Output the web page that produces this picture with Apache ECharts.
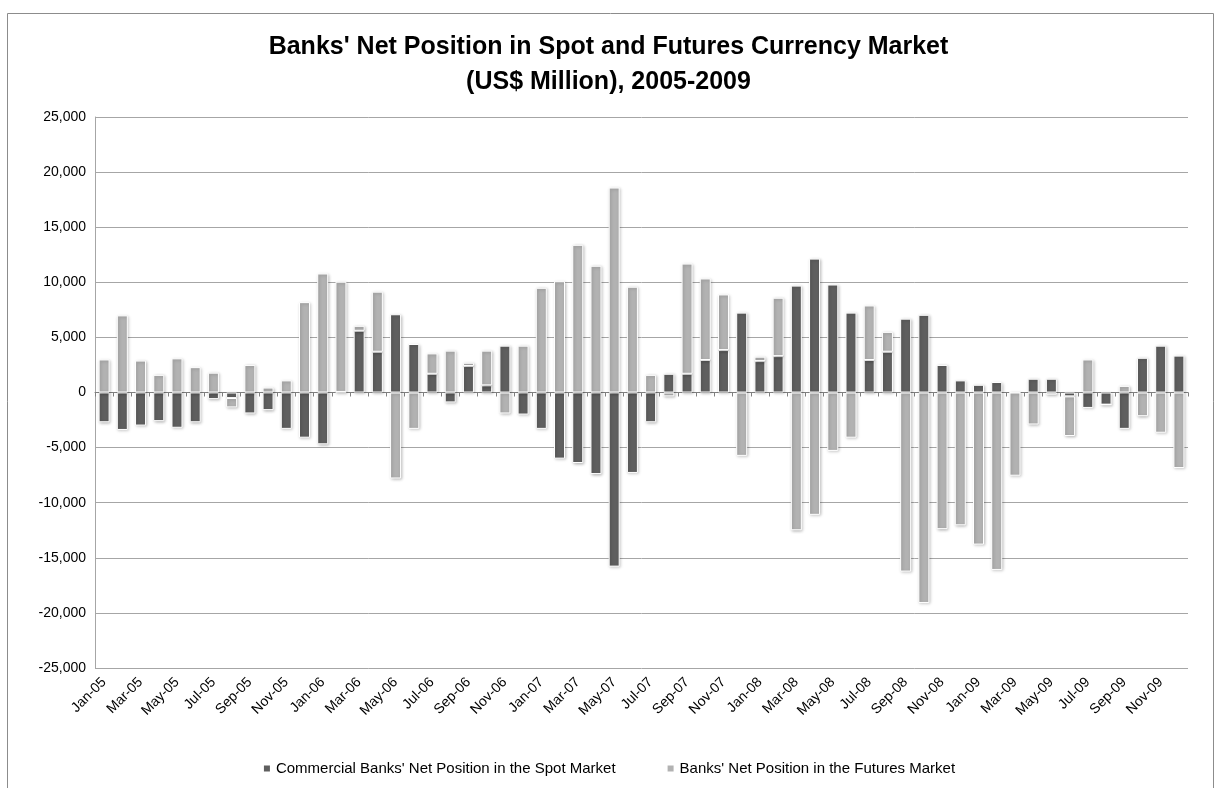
<!DOCTYPE html>
<html>
<head>
<meta charset="utf-8">
<script src="https://cdn.jsdelivr.net/npm/echarts@6/dist/echarts.min.js"></script>
<style>html,body{margin:0;padding:0;background:#fff}#c{width:1217px;height:788px}</style>
</head>
<body>
<div id="c"></div>
<script>
const categories = [
  'Jan-05','Feb-05','Mar-05','Apr-05','May-05','Jun-05','Jul-05','Aug-05','Sep-05','Oct-05','Nov-05','Dec-05',
  'Jan-06','Feb-06','Mar-06','Apr-06','May-06','Jun-06','Jul-06','Aug-06','Sep-06','Oct-06','Nov-06','Dec-06',
  'Jan-07','Feb-07','Mar-07','Apr-07','May-07','Jun-07','Jul-07','Aug-07','Sep-07','Oct-07','Nov-07','Dec-07',
  'Jan-08','Feb-08','Mar-08','Apr-08','May-08','Jun-08','Jul-08','Aug-08','Sep-08','Oct-08','Nov-08','Dec-08',
  'Jan-09','Feb-09','Mar-09','Apr-09','May-09','Jun-09','Jul-09','Aug-09','Sep-09','Oct-09','Nov-09','Dec-09'
];
const spotMarket = [
  -2700, -3400, -3000, -2600, -3200, -2700, -600, -500, -1900, -1600, -3300, -4100,
  -4700, 50, 5600, 3700, 7100, 4400, 1700, -900, 2400, 650, 4250, -2000,
  -3300, -6000, -6400, -7400, -15800, -7300, -2700, 1700, 1700, 2950, 3850, 7250,
  2850, 3300, 9700, 12150, 9800, 7250, 2950, 3700, 6700, 7050, 2500, 1100,
  700, 950, 0, 1250, 1250, -350, -1400, -1100, -3300, 3150, 4250, 3350
];
const futuresMarket = [
  3000, 7000, 2900, 1600, 3100, 2300, 1800, -850, 2500, 450, 1100, 8200,
  10800, 10000, 450, 5450, -7800, -3300, 1850, 3800, 300, 3150, -1900, 4250,
  9500, 10100, 13400, 11500, 18600, 9600, 1600, -350, 10000, 7400, 5050, -5750,
  400, 5300, -12500, -11100, -5300, -4100, 4950, 1800, -16250, -19100, -12400, -12050,
  -13800, -16100, -7550, -2900, -200, -3600, 3000, 0, 600, -2150, -3650, -6850
];
const seriesNames = ["Commercial Banks' Net Position in the Spot Market", "Banks' Net Position in the Futures Market"];
const titleLines = ["Banks' Net Position in Spot and Futures Currency Market", "(US$ Million), 2005-2009"];

const font = 'Liberation Sans, Arial, sans-serif';
const chart = echarts.init(document.getElementById('c'), null, {renderer: 'canvas'});
const barStyle = (color) => ({
  color: color,
  borderColor: '#ffffff',
  borderWidth: 1,
  shadowColor: 'rgba(0,0,0,0.25)',
  shadowBlur: 3,
  shadowOffsetX: 1,
  shadowOffsetY: 1
});
chart.setOption({
  animation: false,
  backgroundColor: '#fff',
  graphic: [{
    type: 'rect', left: 5, top: 11, silent: true,
    shape: {width: 1206, height: 800},
    style: {fill: 'none', stroke: '#8c8c8c', lineWidth: 1}
  }],
  title: {
    text: titleLines.join('\n'),
    left: 'center', top: 25,
    textStyle: {fontFamily: font, fontWeight: 'bold', fontSize: 25, lineHeight: 35, color: '#000'}
  },
  legend: {
    bottom: 7, left: 'center',
    itemWidth: 8, itemHeight: 8, itemGap: 50,
    icon: 'rect',
    textStyle: {fontFamily: font, fontSize: 15, color: '#000'},
    data: seriesNames
  },
  grid: {left: 95, right: 29, top: 117, bottom: 120},
  xAxis: [{
    type: 'category', data: categories, position: 'bottom',
    axisLine: {show: false, onZero: false},
    axisTick: {show: false},
    axisLabel: {interval: 1, rotate: 45, fontFamily: font, fontSize: 14, color: '#000', margin: 12}
  }, {
    type: 'category', data: categories, position: 'top',
    axisLine: {show: true, onZero: true, lineStyle: {color: '#808080', width: 1}},
    axisTick: {show: true, interval: 0, length: 4, inside: true, lineStyle: {color: '#808080'}},
    axisLabel: {show: false}
  }],
  yAxis: {
    type: 'value', min: -25000, max: 25000, interval: 5000,
    axisLine: {show: true, lineStyle: {color: '#a6a6a6'}},
    axisTick: {show: false},
    splitLine: {lineStyle: {color: '#a6a6a6', width: 1}},
    axisLabel: {
      fontFamily: font, fontSize: 14, color: '#000', margin: 9,
      formatter: v => v.toLocaleString('en-US')
    }
  },
  series: [{
    name: seriesNames[0], type: 'bar', stack: 'total', xAxisIndex: 0,
    data: spotMarket, barWidth: 11, itemStyle: barStyle('#5f5f5f')
  }, {
    name: seriesNames[1], type: 'bar', stack: 'total', xAxisIndex: 0,
    data: futuresMarket, barWidth: 11, itemStyle: barStyle('#b2b2b2')
  }]
});
</script>
</body>
</html>
